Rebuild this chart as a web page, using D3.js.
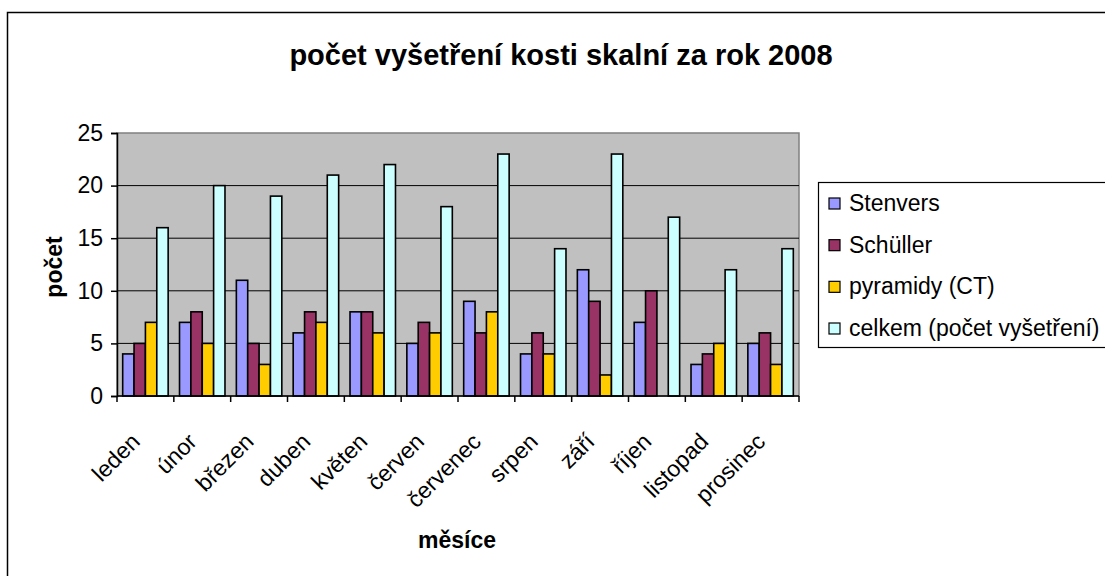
<!DOCTYPE html>
<html><head><meta charset="utf-8">
<script src="https://cdn.jsdelivr.net/npm/d3@7"></script>
<style>body{margin:0;background:#fff}svg{display:block;font-family:"Liberation Sans",Arial,sans-serif}</style>
</head><body>
<script>
const months = ["leden","únor","březen","duben","květen","červen","červenec","srpen","září","říjen","listopad","prosinec"];
const stenvers = [4,7,11,6,8,5,9,4,12,7,3,5];
const schuller = [5,8,5,8,8,7,6,6,9,10,4,6];
const pyramidy = [7,5,3,7,6,6,8,4,2,0,5,3];
const celkem = [16,20,19,21,22,18,23,14,23,17,12,14];
const seriesNames = ["Stenvers","Schüller","pyramidy (CT)","celkem (počet vyšetření)"];
const seriesColors = ["#9999FF","#993366","#FFCC00","#CCFFFF"];
const yTicks = [0,5,10,15,20,25];
const seriesData = [stenvers, schuller, pyramidy, celkem];

const W = 1105, H = 576;
const svg = d3.select("body").append("svg").attr("width", W).attr("height", H);

// outer chart border
svg.append("rect").attr("x",7.5).attr("y",12.5).attr("width",W).attr("height",H)
  .attr("fill","#fff").attr("stroke","#000").attr("stroke-width",1.5);

const P = {l:117, r:799, t:133, b:396};
const x0 = d3.scaleBand().domain(months).range([P.l,P.r]).paddingInner(0).paddingOuter(0);
const bw = x0.bandwidth()/5;
const x1 = d3.scaleBand().domain(d3.range(4)).range([bw/2, x0.bandwidth()-bw/2]);
const y = d3.scaleLinear().domain([0,25]).range([P.b,P.t]);

// plot area
svg.append("rect").attr("x",P.l).attr("y",P.t).attr("width",P.r-P.l).attr("height",P.b-P.t)
  .attr("fill","#C0C0C0").attr("stroke","#808080").attr("stroke-width",1.5);

// gridlines
svg.append("g").selectAll("line").data(yTicks.filter(v=>v>0&&v<25)).join("line")
  .attr("x1",P.l).attr("x2",P.r).attr("y1",d=>y(d)).attr("y2",d=>y(d))
  .attr("stroke","#000").attr("stroke-width",1);

// bars
const g = svg.append("g");
months.forEach((m,i)=>{
  seriesData.forEach((s,j)=>{
    g.append("rect")
      .attr("x", x0(m)+x1(j)).attr("y", y(s[i]))
      .attr("width", x1.bandwidth()).attr("height", y(0)-y(s[i]))
      .attr("fill", seriesColors[j]).attr("stroke","#000").attr("stroke-width",1.6);
  });
});

// y axis
const yAxis = d3.axisLeft(y).tickValues(yTicks).tickSize(6).tickPadding(8);
const ya = svg.append("g").attr("transform",`translate(${P.l},0)`).call(yAxis);
ya.select(".domain").attr("stroke","#000").attr("stroke-width",1.5);
ya.selectAll(".tick line").attr("stroke","#000").attr("stroke-width",1.5);
ya.selectAll("text").attr("font-size",23).attr("fill","#000").attr("font-family","Liberation Sans, Arial, sans-serif");

// x axis
const xa = svg.append("g").attr("transform",`translate(0,${P.b})`);
xa.append("line").attr("x1",P.l).attr("x2",P.r).attr("y1",0).attr("y2",0).attr("stroke","#000").attr("stroke-width",1.5);
const bounds = months.map(m=>x0(m)).concat([P.r]);
xa.selectAll("line.tk").data(bounds).join("line").attr("class","tk")
  .attr("x1",d=>d).attr("x2",d=>d).attr("y1",0).attr("y2",6).attr("stroke","#000").attr("stroke-width",1.5);
xa.selectAll("text").data(months).join("text")
  .attr("transform",d=>`translate(${x0(d)+x0.bandwidth()/2-4},${47}) rotate(-45)`)
  .attr("text-anchor","end").attr("font-size",23).attr("fill","#000").text(d=>d);

// titles
svg.append("text").attr("x",561).attr("y",65).attr("text-anchor","middle")
  .attr("font-size",29).attr("font-weight","bold").text("počet vyšetření kosti skalní za rok 2008");
svg.append("text").attr("x",457).attr("y",548).attr("text-anchor","middle")
  .attr("font-size",23).attr("font-weight","bold").text("měsíce");
svg.append("text").attr("transform","translate(62,267) rotate(-90)").attr("text-anchor","middle")
  .attr("font-size",23).attr("font-weight","bold").text("počet");

// legend
const lg = svg.append("g");
lg.append("rect").attr("x",818.5).attr("y",182.5).attr("width",300).attr("height",165)
  .attr("fill","#fff").attr("stroke","#000").attr("stroke-width",1.2);
const ly = d3.scalePoint().domain(seriesNames).range([203,328]);
seriesNames.forEach((n,j)=>{
  lg.append("rect").attr("x",829).attr("y",ly(n)-5).attr("width",11).attr("height",11)
    .attr("fill",seriesColors[j]).attr("stroke","#000").attr("stroke-width",1.2);
  lg.append("text").attr("x",849).attr("y",ly(n)+8).attr("font-size",23).text(n);
});
</script>
</body></html>
